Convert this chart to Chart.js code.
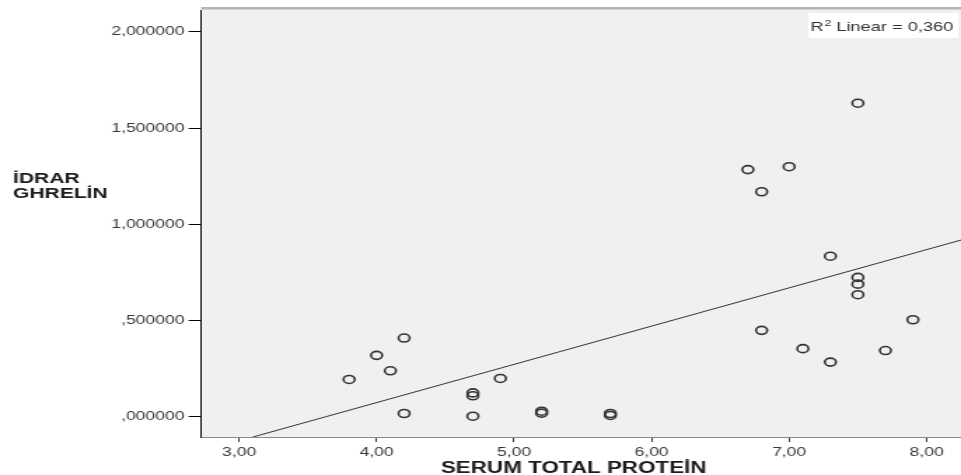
<!DOCTYPE html>
<html>
<head>
<meta charset="utf-8">
<script src="https://cdn.jsdelivr.net/npm/chart.js@4"></script>
<style>
  html, body { margin: 0; padding: 0; background: #fff; overflow: hidden; }
  #wrap { width: 686px; height: 475px; transform: scaleX(1.4009); transform-origin: 0 0; }
</style>
</head>
<body>
<div id="wrap"><canvas id="chart" width="686" height="475"></canvas></div>
<script>
// serum total protein (x) / urine ghrelin (y)
const proteinValues = [3.8, 4.0, 4.1, 4.2, 4.2, 4.7, 4.7, 4.7, 4.9, 5.2, 5.2, 5.7, 5.7,
  6.7, 6.8, 6.8, 7.0, 7.1, 7.3, 7.3, 7.5, 7.5, 7.5, 7.5, 7.7, 7.9];
const ghrelinValues = [0.195, 0.32, 0.24, 0.41, 0.018, 0.11, 0.125, 0.004, 0.2, 0.02, 0.03, 0.008, 0.018,
  1.285, 1.17, 0.45, 1.3, 0.355, 0.835, 0.285, 1.63, 0.725, 0.69, 0.635, 0.345, 0.505];

// fit line end points
const fitX = [3.10, 8.26];
const fitY = [-0.104, 0.921];
const rSquared = '0,360';

const xTicks = [3, 4, 5, 6, 7, 8];
const xTickLabels = ['3,00', '4,00', '5,00', '6,00', '7,00', '8,00'];
const yTicks = [0, 0.5, 1, 1.5, 2];
const yTickLabels = [',000000', ',500000', '1,000000', '1,500000', '2,000000'];

const FONT = "'Liberation Sans', Arial, sans-serif";

const points = proteinValues.map((x, i) => ({ x, y: ghrelinValues[i] }));
const fitPoints = fitX.map((x, i) => ({ x, y: fitY[i] }));

const frame = {
  id: 'frame',
  beforeDraw(chart) {
    const { ctx, chartArea: a } = chart;
    ctx.save();
    ctx.fillStyle = '#fff';
    ctx.fillRect(0, 0, chart.width, chart.height);
    ctx.fillStyle = '#f0f0f0';
    ctx.fillRect(a.left, a.top, a.right - a.left, a.bottom - a.top);
    ctx.fillStyle = '#b3b3b3';
    ctx.fillRect(a.left, a.top - 3, a.right - a.left, 2);
    ctx.fillStyle = '#d2d2d2';
    ctx.fillRect(a.left, a.top - 1, a.right - a.left, 1);
    ctx.restore();
  },
  afterDraw(chart) {
    const { ctx } = chart;
    ctx.save();
    // R² box
    ctx.fillStyle = '#fff';
    ctx.fillRect(577, 13, 107, 25);
    ctx.fillStyle = '#333';
    ctx.textBaseline = 'alphabetic';
    ctx.font = `13px ${FONT}`;
    ctx.fillText('R', 578.5, 31);
    let x = 578.5 + ctx.measureText('R').width;
    ctx.font = `9px ${FONT}`;
    ctx.fillText('2', x + 0.5, 26);
    x += ctx.measureText('2').width + 0.5;
    ctx.font = `13px ${FONT}`;
    ctx.fillText(` Linear = ${rSquared}`, x, 31);

    // axis titles
    ctx.fillStyle = '#1c1c1c';
    ctx.font = `bold 15px ${FONT}`;
    ctx.fillText('İDRAR', 9.3, 183);
    ctx.fillText('GHRELİN', 9.3, 197.5);
    ctx.font = `bold 16px ${FONT}`;
    ctx.textAlign = 'center';
    ctx.fillText('SERUM TOTAL PROTEİN', 409.5, 473);
    ctx.restore();
  },
};

new Chart(document.getElementById('chart'), {
  type: 'scatter',
  data: {
    datasets: [
      {
        data: points,
        pointStyle: 'circle',
        pointRadius: 4,
        pointBorderWidth: 1.6,
        pointBorderColor: '#333',
        pointBackgroundColor: 'rgba(0,0,0,0)',
      },
      {
        type: 'line',
        data: fitPoints,
        borderColor: '#333',
        borderWidth: 1,
        pointRadius: 0,
        fill: false,
      },
    ],
  },
  options: {
    responsive: false,
    animation: false,
    layout: { autoPadding: false, padding: { top: 10, left: 0, right: 0, bottom: 0 } },
    plugins: { legend: { display: false }, tooltip: { enabled: false } },
    scales: {
      x: {
        type: 'linear',
        min: 2.724,
        max: 8.25,
        afterBuildTicks: (s) => { s.ticks = xTicks.map((v) => ({ value: v })); },
        afterFit: (s) => {
          s.height = 38;
          s.paddingLeft = 0;
          s.paddingRight = 0;
        },
        ticks: {
          callback: (v) => xTickLabels[xTicks.indexOf(v)],
          color: '#3a3a3a',
          font: { family: FONT, size: 12.5 },
          padding: 3,
          maxRotation: 0,
        },
        grid: { drawOnChartArea: false, tickLength: 5, color: '#333' },
        border: { color: '#8a8a8a', width: 1 },
      },
      y: {
        type: 'linear',
        min: -0.104,
        max: 2.114,
        afterBuildTicks: (s) => { s.ticks = yTicks.map((v) => ({ value: v })); },
        afterFit: (s) => {
          s.width = 143.6;
          s.paddingTop = 0;
          s.paddingBottom = 0;
        },
        ticks: {
          callback: (v) => yTickLabels[yTicks.indexOf(v)],
          color: '#3a3a3a',
          font: { family: FONT, size: 12.5 },
          padding: 3,
        },
        grid: { drawOnChartArea: false, tickLength: 9, color: '#000' },
        border: { color: '#000', width: 1 },
      },
    },
  },
  plugins: [frame],
});
</script>
</body>
</html>
